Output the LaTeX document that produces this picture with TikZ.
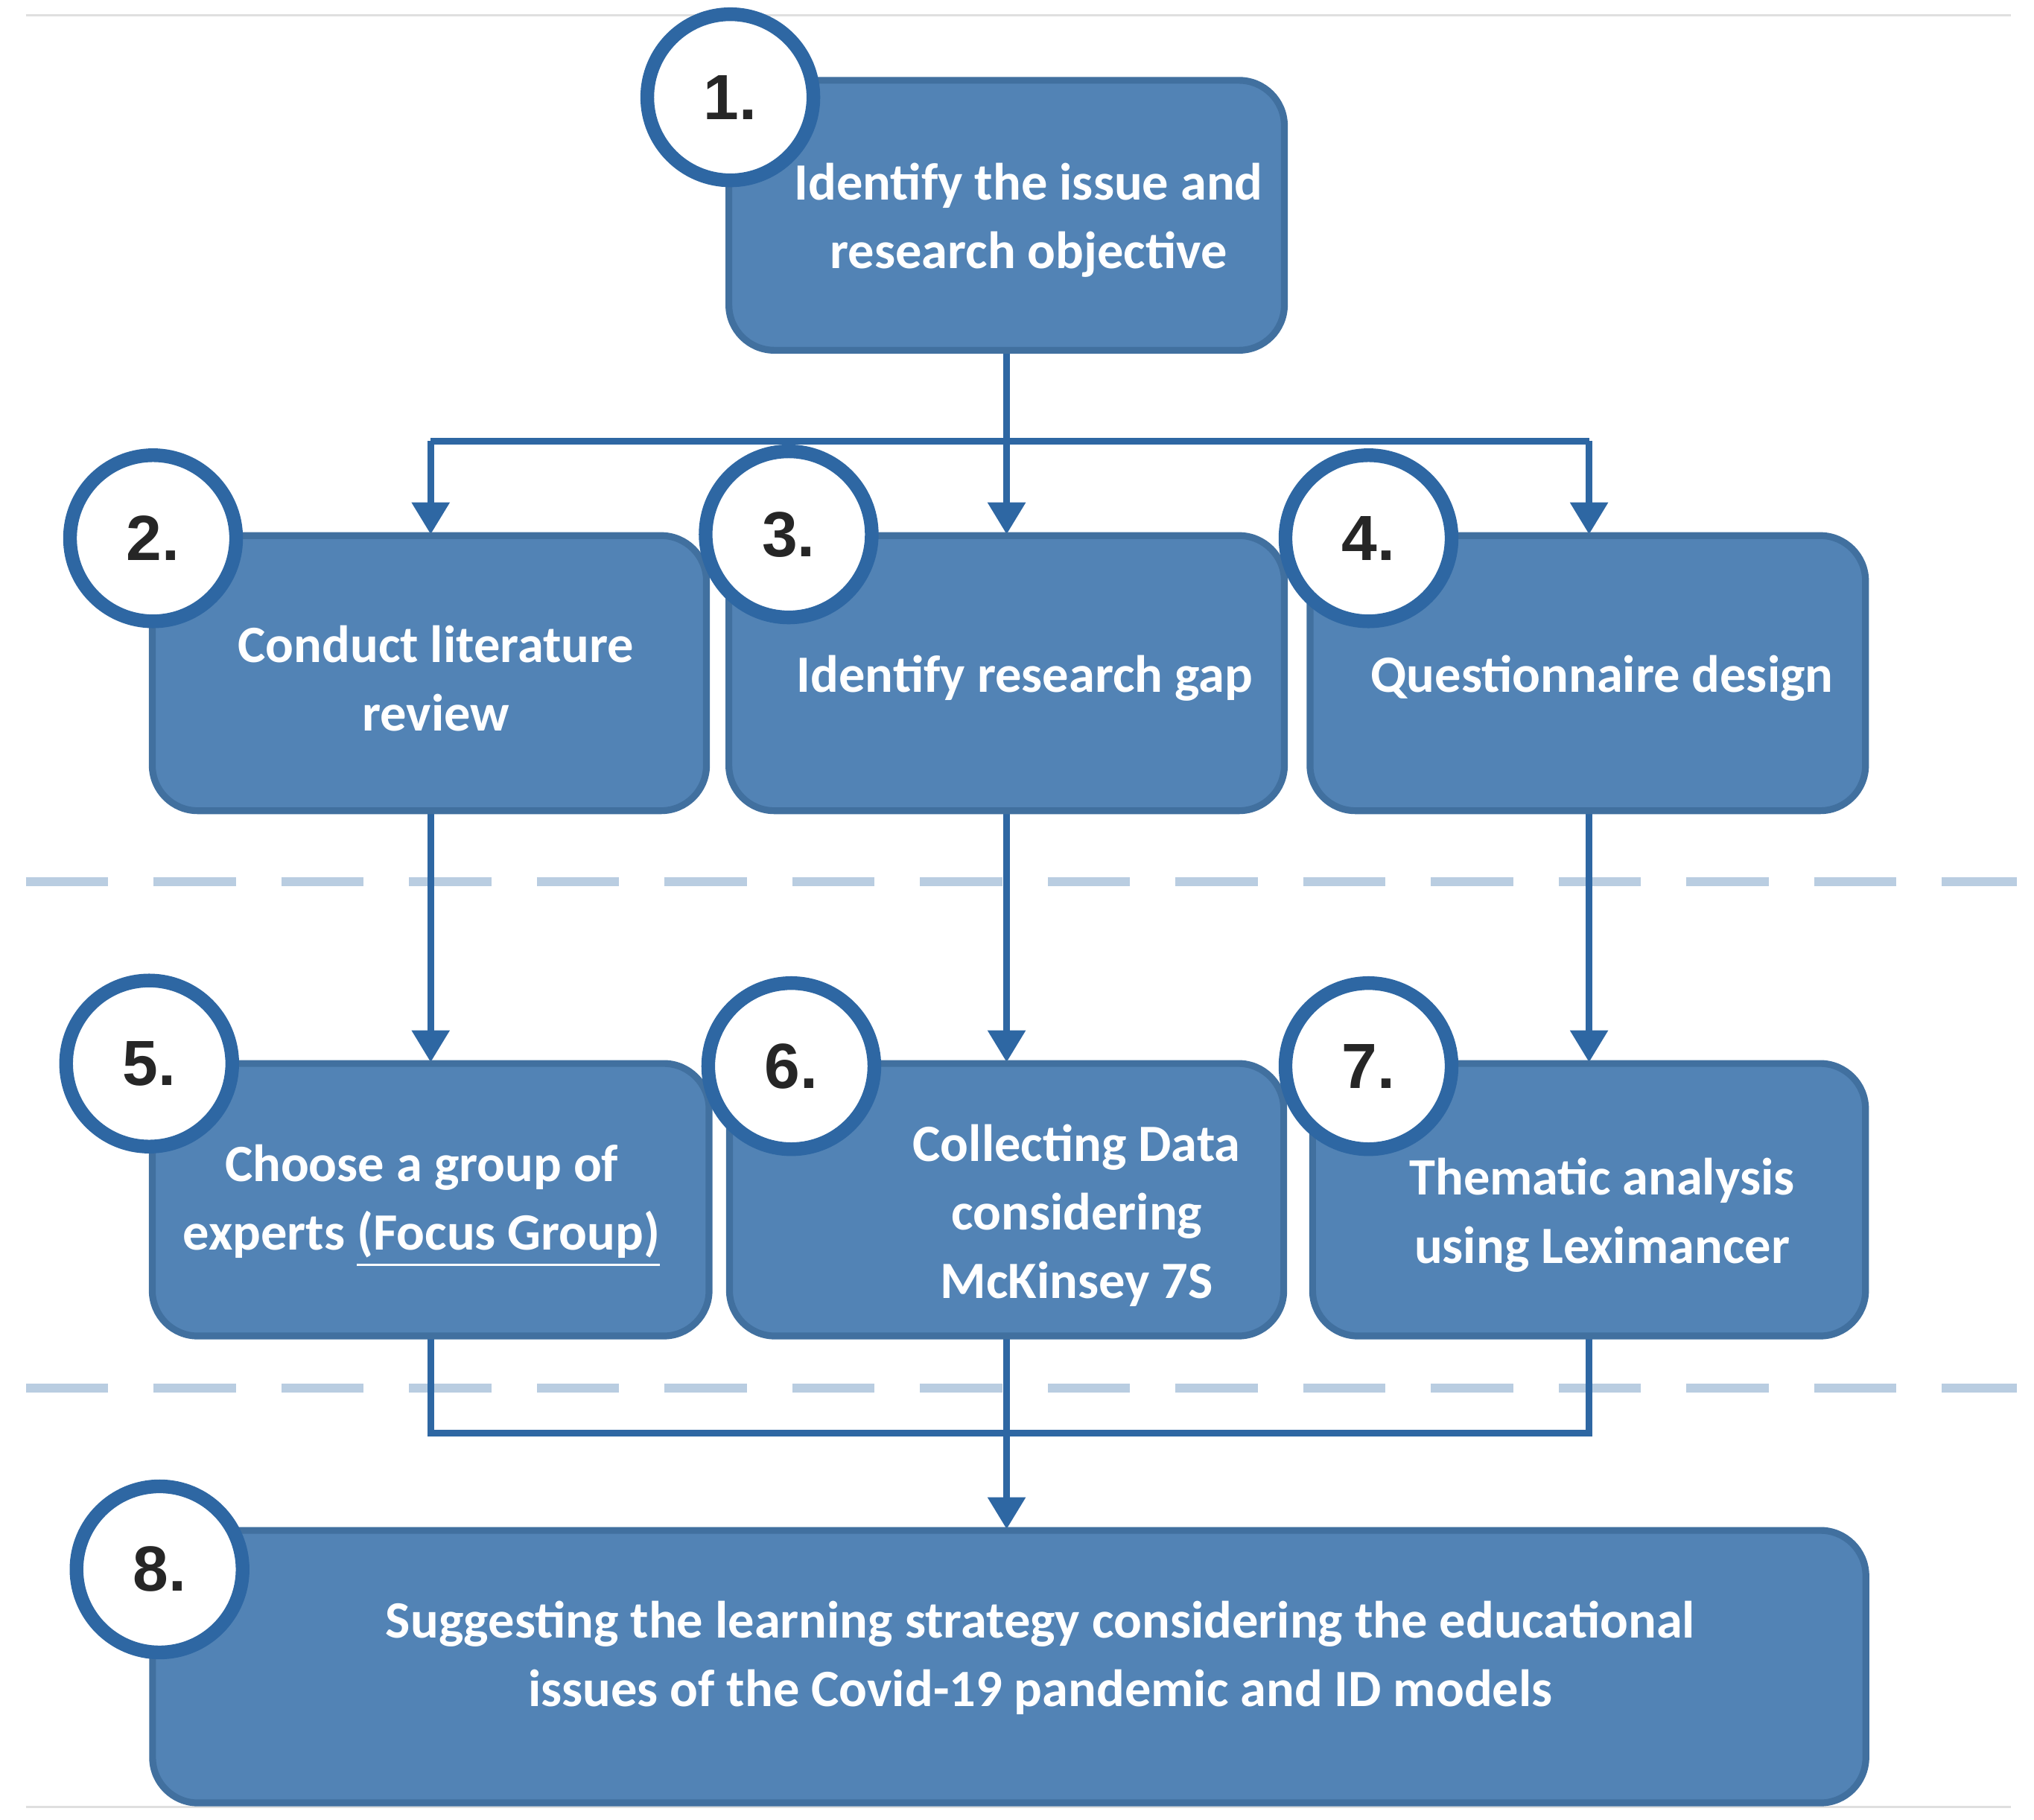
\documentclass[tikz,border=0pt]{standalone}
\usepackage{fontspec}
\setmainfont{Carlito}
\newfontfamily\numfont{Liberation Sans}
\usetikzlibrary{arrows.meta}
\definecolor{boxfill}{HTML}{5283B5}
\definecolor{boxedge}{HTML}{41709F}
\definecolor{lineblue}{HTML}{2E67A3}
\definecolor{dashc}{HTML}{B9CDE1}
\begin{document}
\begin{tikzpicture}[x=0.01cm,y=-0.01cm,
  box/.style={draw=boxedge,line width=1.5pt,fill=boxfill,rounded corners=0.35cm},
  num/.style={circle,draw=lineblue,line width=3pt,fill=white,minimum size=1.28cm,inner sep=0pt,font=\numfont\bfseries\fontsize{14}{14}\selectfont,text=black!85},
  txt/.style={text=white,font=\bfseries\fontsize{11.5}{15}\selectfont,align=center},
  conn/.style={draw=lineblue,line width=1.5pt},
  arr/.style={conn,-{Triangle[width=8pt,length=7pt]}},
  dsh/.style={draw=dashc,line width=2pt,dash pattern=on 18pt off 10pt}]
\useasboundingbox (0,0) rectangle (1568,1403);
\draw[gray!25,line width=0.5pt] (20,12) -- (1550,12);
\draw[gray!25,line width=0.5pt] (20,1393) -- (1550,1393);
\draw[dsh] (20,680) -- (1555,680);
\draw[dsh] (20,1070) -- (1555,1070);
% connectors
\coordinate (t) at (776,340);
\coordinate (tl) at (332,340);
\coordinate (tr) at (1225,340);
\draw[conn] (776,270) -- (t);
\draw[conn] (tl) -- (tr);
\draw[arr] (tl) -- (332,412);
\draw[arr] (776,340) -- (776,412);
\draw[arr] (tr) -- (1225,412);
\draw[arr] (332,625) -- (332,819);
\draw[arr] (776,625) -- (776,819);
\draw[arr] (1225,625) -- (1225,819);
\coordinate (bl) at (332,1105);
\coordinate (br) at (1225,1105);
\draw[conn] (332,1030) -- (bl) -- (br) -- (1225,1030);
\draw[arr] (776,1030) -- (776,1179);
% boxes
\node[box,minimum width=4.28cm,minimum height=2.08cm] (b1) at (776,166) {};
\node[box,minimum width=4.27cm,minimum height=2.12cm] (b2) at (331,519) {};
\node[box,minimum width=4.28cm,minimum height=2.12cm] (b3) at (776,519) {};
\node[box,minimum width=4.28cm,minimum height=2.12cm] (b4) at (1224,519) {};
\node[box,minimum width=4.29cm,minimum height=2.10cm] (b5) at (332,925) {};
\node[box,minimum width=4.27cm,minimum height=2.10cm] (b6) at (776,925) {};
\node[box,minimum width=4.26cm,minimum height=2.10cm] (b7) at (1225,925) {};
\node[box,minimum width=13.2cm,minimum height=2.10cm] (b8) at (778,1285) {};
% texts
\node[txt] (t1) at (793,170) {Identify the issue and\\research objective};
\node[txt] (t2) at (336,523) {Conduct literature\\review};
\node[txt] (t3) at (790,523) {Identify research gap};
\node[txt] (t4) at (1235,523) {Questionnaire design};
\node[txt] (t5) at (325,930) {Choose a group of\\experts \underline{(Focus Group)}};
\node[txt] (t6) at (830,937) {Collecting Data\\considering\\McKinsey 7S};
\node[txt] (t7) at (1235,937) {Thematic analysis\\using Leximancer};
\node[txt] (t8) at (802,1278) {Suggesting the learning strategy considering the educational\\issues of the Covid-19 pandemic and ID models};
% numbers
\node[num] (n1) at (563,75) {1.};
\node[num] (n2) at (118,415) {2.};
\node[num] (n3) at (608,412) {3.};
\node[num] (n4) at (1055,415) {4.};
\node[num] (n5) at (115,820) {5.};
\node[num] (n6) at (610,822) {6.};
\node[num] (n7) at (1055,822) {7.};
\node[num] (n8) at (123,1210) {8.};
\end{tikzpicture}
\end{document}
